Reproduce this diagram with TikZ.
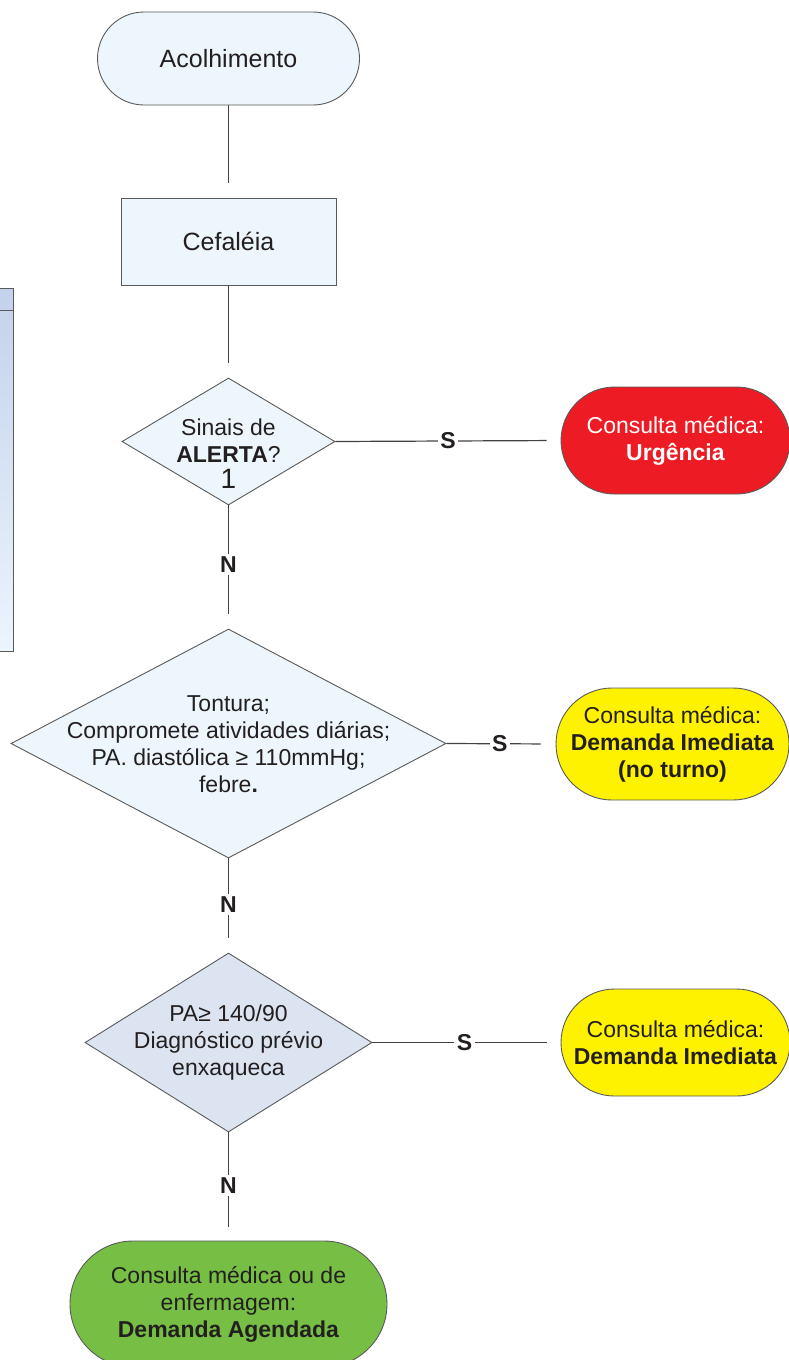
\documentclass[tikz,border=0pt]{standalone}
\usepackage{fontspec}
\setmainfont{Liberation Sans}
\usetikzlibrary{shapes.geometric}
\definecolor{paleblue}{HTML}{EEF6FD}
\definecolor{greyblue}{HTML}{DDE4F1}
\definecolor{alertred}{HTML}{ED1C24}
\definecolor{warnyellow}{HTML}{FFF200}
\definecolor{okgreen}{HTML}{76BF44}
\definecolor{ink}{HTML}{231F20}
\definecolor{edge}{HTML}{5A5A5A}
\definecolor{panetop}{HTML}{C3D2EB}
\definecolor{panebot}{HTML}{EBF5FD}
\tikzset{
  txt/.style={font=\fontsize{23}{27}\selectfont, text=ink, align=center},
  stadium/.style={txt, draw=edge, line width=0.9pt, inner sep=0pt},
  procbox/.style={txt, draw=edge, line width=0.9pt, fill=paleblue, inner sep=0pt},
  decision/.style={diamond, draw=edge, line width=0.9pt, inner sep=0pt},
  inside/.style={label={[txt, inner sep=0pt, yshift=-#1]center:}},
  link/.style={draw=ink!85, line width=1.2pt},
  answer/.style={font=\fontsize{23}{25}\selectfont\bfseries, text=ink, fill=white, inner sep=2.5pt}
}
\begin{document}
\begin{tikzpicture}[x=1pt, y=-1pt]
\useasboundingbox (0,0) rectangle (789,1360);

% side panel, partly visible at the left edge
\shade[top color=panetop, bottom color=panebot] (-2,288) rectangle (13,651);
\draw[edge, line width=0.9pt] (-2,288) rectangle (13,651);
\draw[edge, line width=0.9pt] (-2,310) -- (13,310);

% flow nodes
\node[stadium, fill=paleblue, minimum width=262pt, minimum height=93pt, rounded corners=46.5pt,
      font=\fontsize{25}{29}\selectfont] (start) at (228.5,58.5) {Acolhimento};
\node[procbox, minimum width=215pt, minimum height=87pt,
      font=\fontsize{25}{29}\selectfont] (cefaleia) at (228.5,241.5) {Cefaléia};

% decisions: fixed outline, text set on top of it
\node[decision, fill=paleblue, minimum width=213pt, minimum height=127pt] (alerta) at (228.5,441.5) {};
\node[txt, inner sep=0pt] (alertatxt) at (228.5,453.5)
  {Sinais de\\\textbf{ALERTA}?\\[-1pt]{\fontsize{28}{28}\selectfont 1}};
\node[stadium, fill=alertred, text=white, minimum width=229pt, minimum height=107pt, rounded corners=53.5pt]
  (urgencia) at (675.5,440.5) {Consulta médica:\\\textbf{Urgência}};

\node[decision, fill=paleblue, minimum width=435pt, minimum height=229pt] (tontura) at (228.5,743.5) {};
\node[txt, inner sep=0pt] (tonturatxt) at (228.5,744.5)
  {Tontura;\\Compromete atividades diárias;\\PA. diastólica ≥ 110mmHg;\\febre\textbf{.}};
\node[stadium, fill=warnyellow, minimum width=233pt, minimum height=112pt, rounded corners=56pt]
  (imediata1) at (672.5,744) {Consulta médica:\\\textbf{Demanda Imediata}\\\textbf{(no turno)}};

\node[decision, fill=greyblue, minimum width=287pt, minimum height=179pt] (pa) at (228.5,1042.5) {};
\node[txt, inner sep=0pt] (patxt) at (228.5,1042.5) {PA≥ 140/90\\Diagnóstico prévio\\enxaqueca};
\node[stadium, fill=warnyellow, minimum width=229pt, minimum height=107pt, rounded corners=53.5pt]
  (imediata2) at (675.5,1042.5) {Consulta médica:\\\textbf{Demanda Imediata}};

\node[stadium, fill=okgreen, minimum width=317pt, minimum height=126pt, rounded corners=63pt]
  (agendada) at (228.5,1304) {Consulta médica ou de\\enfermagem:\\\textbf{Demanda Agendada}};

% connectors
\draw[link, shorten >=15pt] (start) -- (cefaleia);
\draw[link, shorten >=15pt] (cefaleia) -- (alerta);
\draw[link, shorten >=14pt] (alerta.east) -- node[answer, pos=0.5] {S} (urgencia.west);
\draw[link, shorten >=15pt] (alerta.south) -- node[answer, pos=0.48] {N} (tontura.north);
\draw[link, shorten >=15pt] (tontura.east) -- node[answer, pos=0.49] {S} (imediata1.west);
\draw[link, shorten >=15pt] (tontura.south) -- node[answer, pos=0.49] {N} (pa.north);
\draw[link, shorten >=14pt] (pa.east) -- node[answer, pos=0.49] {S} (imediata2.west);
\draw[link, shorten >=14pt] (pa.south) -- node[answer, pos=0.49] {N} (agendada.north);
\end{tikzpicture}
\end{document}
